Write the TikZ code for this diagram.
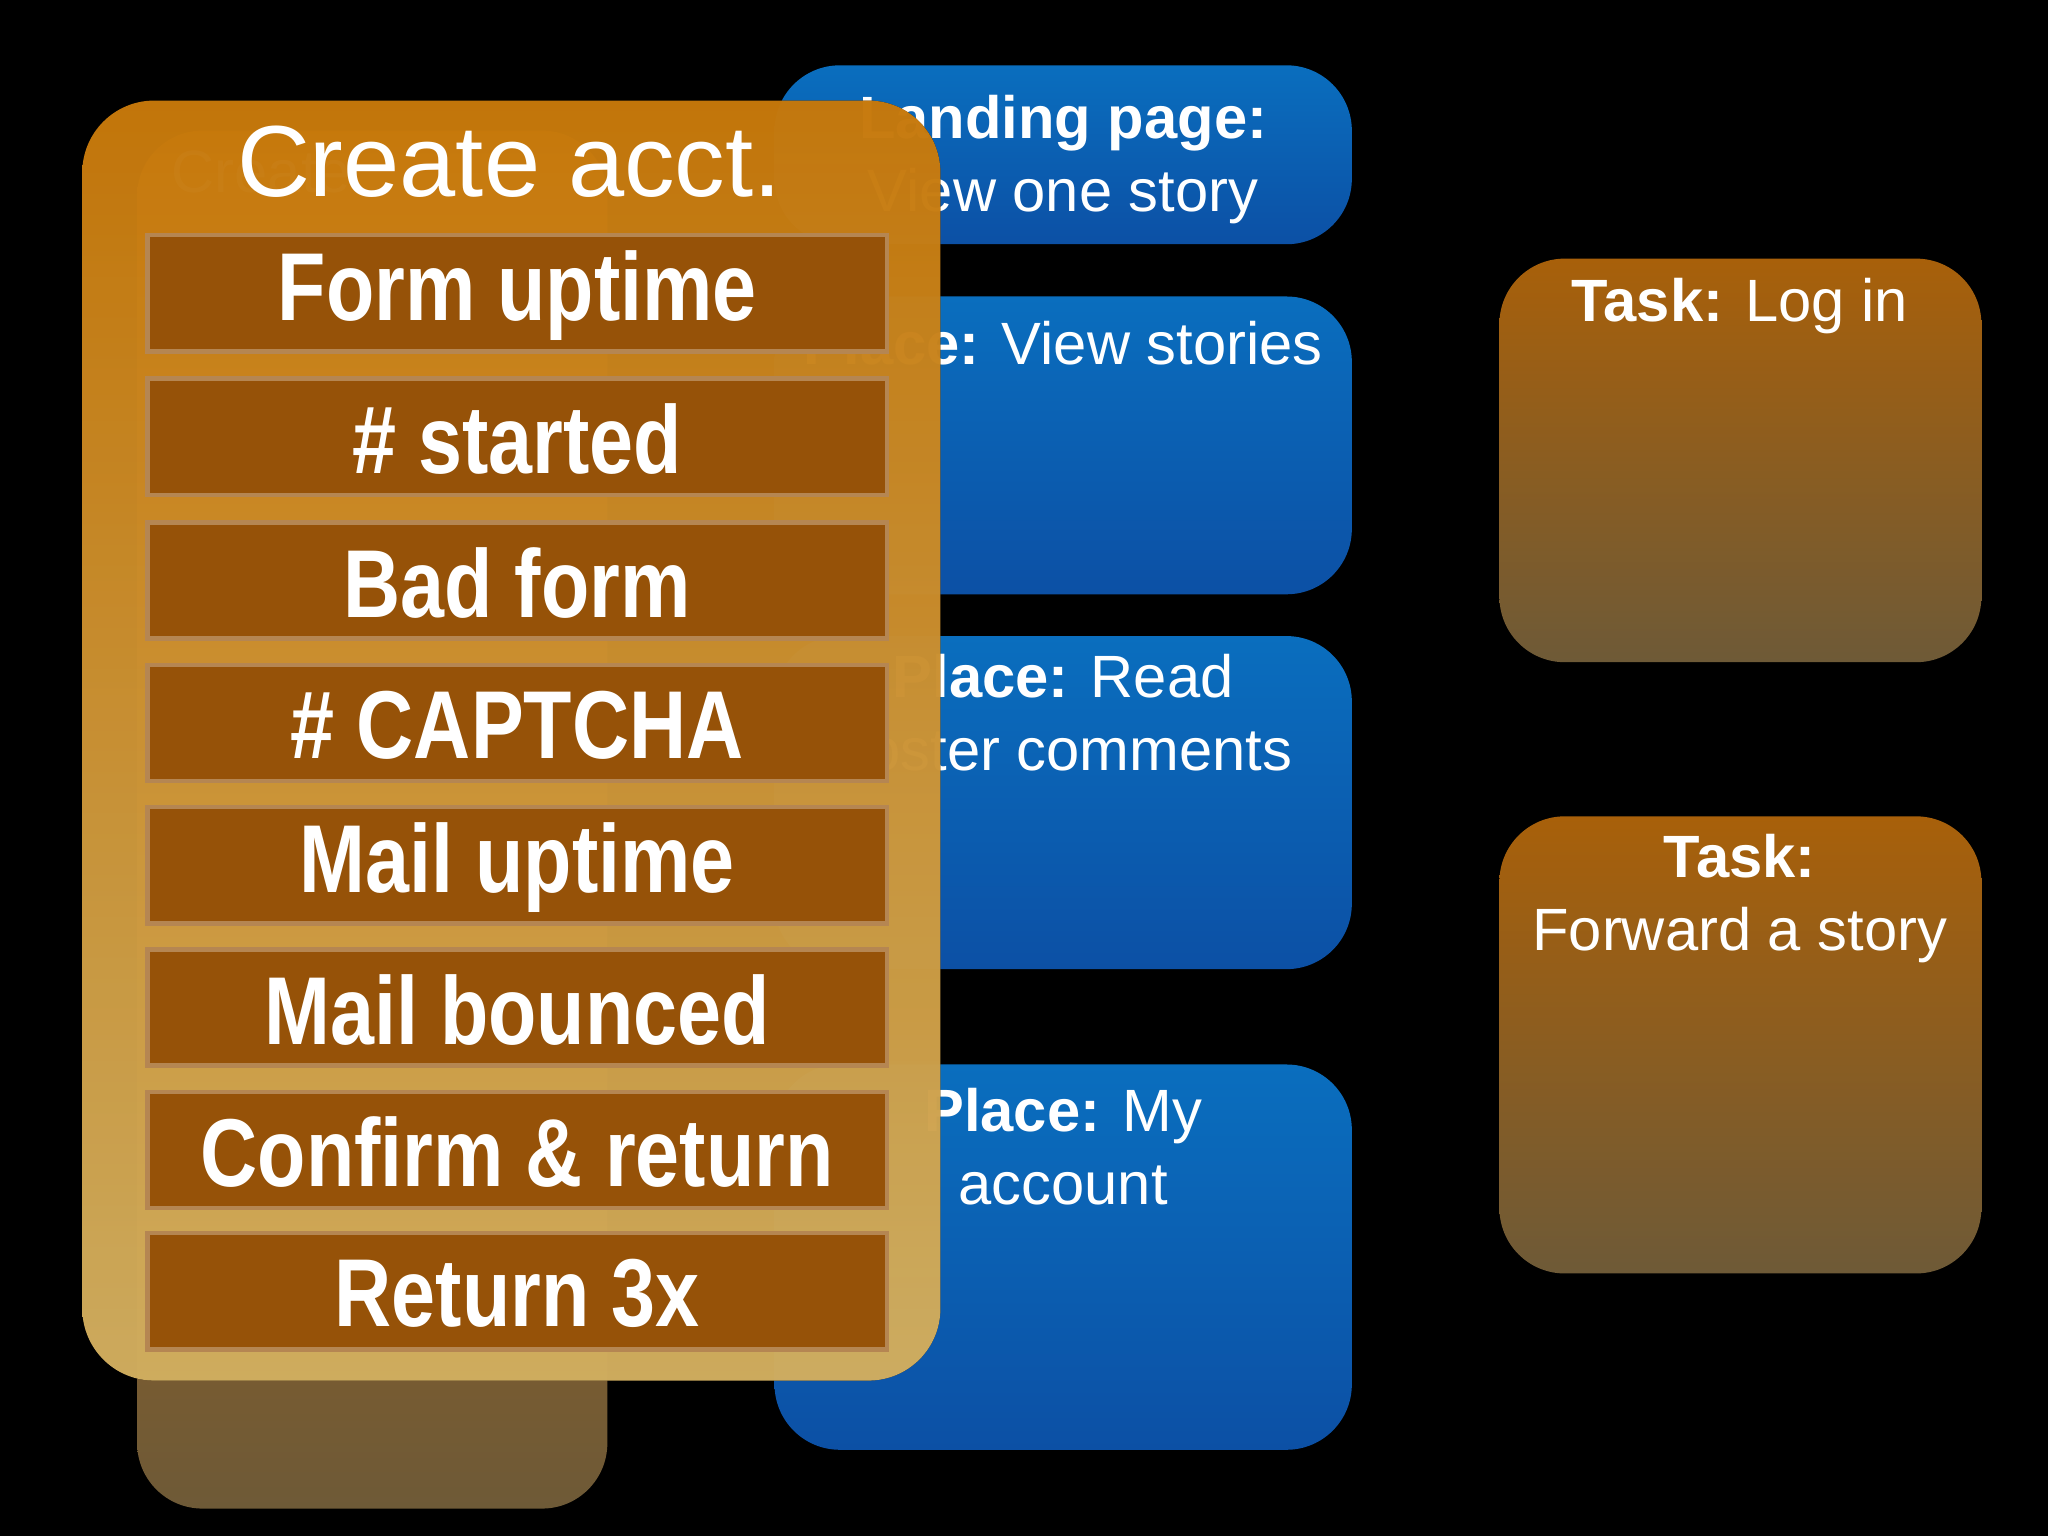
\documentclass[tikz,border=0pt]{standalone}
\usepackage{fontspec}
\setmainfont{Liberation Sans}
\definecolor{btop}{RGB}{10,110,190}
\definecolor{bbot}{RGB}{12,80,165}
\definecolor{ttop}{RGB}{168,96,10}
\definecolor{tbot}{RGB}{110,90,55}
\definecolor{otop}{RGB}{228,138,12}
\definecolor{obot}{RGB}{240,200,110}
\definecolor{barc}{RGB}{150,82,8}
\begin{document}
\begin{tikzpicture}[x=0.01cm,y=-0.01cm,
  blue/.style={rounded corners=0.5cm,top color=btop,bottom color=bbot},
  task/.style={rounded corners=0.5cm,top color=ttop,bottom color=tbot},
  bar/.style={fill=barc,draw=barc!70!white,line width=1pt},
  bt/.style={text=white,font=\fontsize{21}{24}\selectfont\bfseries,xscale=0.82},
  ht/.style={text=white,font=\fontsize{13}{16}\selectfont,align=center}]
\fill[black] (0,0) rectangle (1568,1176);
\useasboundingbox (0,0) rectangle (1568,1176);
% back layer
\fill[rounded corners=0.5cm,top color=orange!80!black,bottom color=tbot] (105,100) rectangle (465,1155);
\node[ht,text=white!70] (cr) at (200,132) {Create};
\fill[blue] (593,50) rectangle (1035,187);
\node[ht] (b1) at (814,122) {\textbf{Landing page:}\\View one story};
\fill[blue] (593,227) rectangle (1035,455);
\node[ht] (b2) at (814,263) {\textbf{Place:} View stories};
\fill[blue] (593,487) rectangle (1035,742);
\node[ht] (b3) at (814,550) {\textbf{Place:} Read\\poster comments};
\fill[blue] (593,815) rectangle (1035,1110);
\node[ht] (b4) at (814,878) {\textbf{Place:} My\\account};
\fill[task] (1148,198) rectangle (1517,507);
\node[ht] (t1) at (1332,234) {\textbf{Task:} Log in};
\fill[task] (1148,625) rectangle (1517,975);
\node[ht] (t2) at (1332,688) {\textbf{Task:}\\Forward a story};
% overlay
\fill[rounded corners=0.55cm,top color=otop,bottom color=obot,opacity=0.85] (63,77) rectangle (720,1057);
\node[text=white!92,font=\fontsize{22}{26}\selectfont] (ca) at (390,124) {Create acct.};
\foreach \y/\t [count=\i] in {180/Form uptime,290/\# started,400/Bad form,509/\# CAPTCHA,618/Mail uptime,727/Mail bounced,836/Confirm \& return,944/Return 3x}{
  \draw[bar] (113,\y) rectangle (679,\y+89);
  \node[bt] (bar\i) at (396,\y+46) {\t};
}
\end{tikzpicture}
\end{document}
